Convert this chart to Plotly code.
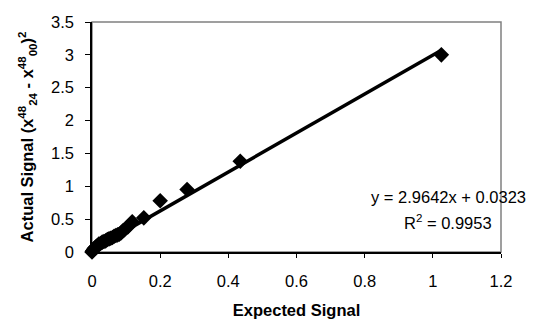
import plotly.graph_objects as go

expected = [0.0, 0.002, 0.005, 0.008, 0.012, 0.016, 0.02, 0.025, 0.03, 0.035, 0.04, 0.045,
            0.05, 0.055, 0.06, 0.065, 0.07, 0.075, 0.08, 0.085, 0.09, 0.095, 0.105, 0.118,
            0.152, 0.2, 0.279, 0.435, 1.025]
actual = [0.0, 0.02, 0.04, 0.06, 0.08, 0.1, 0.12, 0.13, 0.15, 0.16, 0.17, 0.19,
          0.2, 0.21, 0.22, 0.24, 0.25, 0.26, 0.27, 0.29, 0.32, 0.34, 0.38, 0.46,
          0.52, 0.78, 0.95, 1.38, 3.0]
slope = 2.9642
intercept = 0.0323
r2 = 0.9953
x_ticks = [0, 0.2, 0.4, 0.6, 0.8, 1, 1.2]
y_ticks = [0, 0.5, 1, 1.5, 2, 2.5, 3, 3.5]

trend_x = [min(expected), max(expected)]
trend_y = [slope * v + intercept for v in trend_x]

FONT = "Liberation Sans, Arial, sans-serif"
FS = 16.5

fig = go.Figure()
fig.add_trace(go.Scatter(x=expected, y=actual, mode="markers",
                         marker=dict(symbol="diamond", size=12, color="black",
                                     line=dict(width=0)),
                         showlegend=False, cliponaxis=False))
fig.add_trace(go.Scatter(x=trend_x, y=trend_y, mode="lines",
                         line=dict(color="black", width=3.5),
                         showlegend=False, cliponaxis=False))

fig.add_shape(type="rect", xref="x domain", yref="y domain", x0=0, x1=1, y0=0, y1=1,
              line=dict(color="#808080", width=1.5), layer="below")

fig.add_annotation(x=0.8706, y=0.241, xref="paper", yref="paper", xanchor="center", yanchor="middle",
                   text=f"y = {slope:.4f}x + {intercept:.4f}", showarrow=False,
                   font=dict(family=FONT, size=FS, color="black"))
fig.add_annotation(x=0.8706, y=0.13, xref="paper", yref="paper", xanchor="center", yanchor="middle",
                   text=f"R<sup>2</sup> = {r2:.4f}", showarrow=False,
                   font=dict(family=FONT, size=FS, color="black"))

fig.update_layout(
    width=524, height=311,
    margin=dict(l=83.5, r=31, t=14, b=66.5),
    paper_bgcolor="white", plot_bgcolor="white",
    font=dict(family=FONT, size=FS, color="black"),
    xaxis=dict(range=[0, 1.2], tickvals=x_ticks, ticktext=[f"{v:g}" for v in x_ticks],
               showgrid=False, zeroline=False, showline=True, linecolor="black",
               linewidth=1.5, ticks="outside", ticklen=4, tickcolor="black",
               tickfont=dict(size=FS), ticklabelstandoff=9, automargin=False,
               title=dict(text="<b>Expected Signal</b>", standoff=21,
                          font=dict(size=FS))),
    yaxis=dict(range=[0, 3.5], tickvals=y_ticks, ticktext=[f"{v:g}" for v in y_ticks],
               showgrid=False, zeroline=False, showline=True, linecolor="black",
               linewidth=1.5, ticks="outside", ticklen=5, tickcolor="black",
               tickfont=dict(size=FS), ticklabelstandoff=8, automargin=False,
               title=dict(text="<b>Actual Signal (x<sup>48</sup><sub>24</sub> - x<sup>48</sup><sub>00</sub>)<sup>2</sup></b>",
                          standoff=13, font=dict(size=FS))),
)

fig.write_html("out.html")
